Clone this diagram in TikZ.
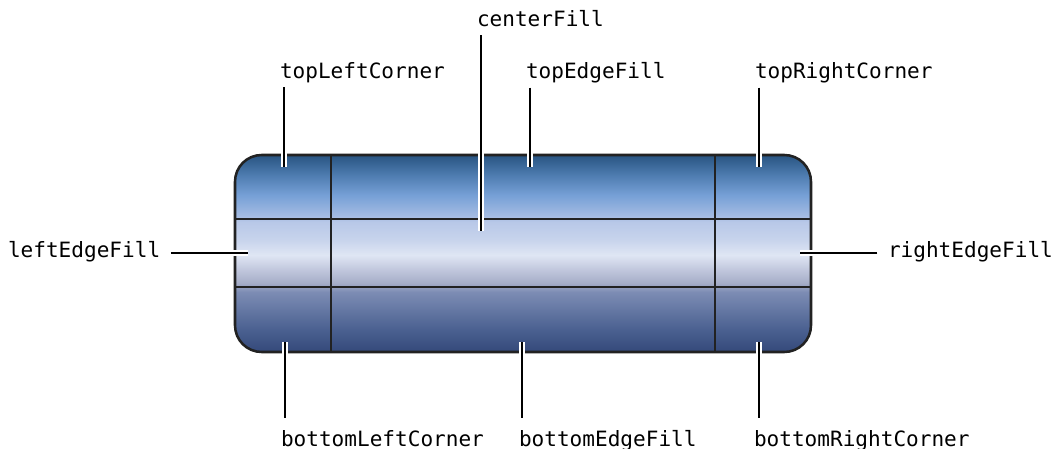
\documentclass[tikz,border=0pt]{standalone}
\usepackage{fontspec}
\setmonofont{DejaVu Sans Mono}
\definecolor{frameInk}{HTML}{222222}
\definecolor{shA}{HTML}{34497A}
\definecolor{shB}{HTML}{4A6090}
\definecolor{shC}{HTML}{7C8CB4}
\definecolor{shD}{HTML}{A6AEC8}
\definecolor{shE}{HTML}{C0C6DC}
\definecolor{shF}{HTML}{DFE6F4}
\definecolor{shG}{HTML}{C8D4EC}
\definecolor{shH}{HTML}{B8C8E8}
\definecolor{shI}{HTML}{A2BAE2}
\definecolor{shJ}{HTML}{76A0D6}
\definecolor{shK}{HTML}{4E7CB0}
\definecolor{shL}{HTML}{2C5886}
\definecolor{shM}{HTML}{2A5280}
\pgfdeclareverticalshading{partsShade}{100bp}{%
  color(0bp)=(shA);
  color(25bp)=(shA);
  color(30.6bp)=(shB);
  color(40.2bp)=(shC);
  color(42.5bp)=(shD);
  color(45.8bp)=(shE);
  color(49.6bp)=(shF);
  color(53.4bp)=(shG);
  color(58bp)=(shH);
  color(59.8bp)=(shI);
  color(64.8bp)=(shJ);
  color(69.9bp)=(shK);
  color(74.5bp)=(shL);
  color(75bp)=(shM);
  color(100bp)=(shM)}
\tikzset{every picture/.style={line width=0.75pt}}
\tikzset{
  partLabel/.style={font=\ttfamily\fontsize{15.8}{19}\selectfont, inner sep=0pt, outer sep=0pt, anchor=base west},
  leader/.style={draw=white, line width=1.6pt, double=black, double distance=1.5pt},
  gridLine/.style={draw=frameInk, line width=1.6pt}
}

\begin{document}
\begin{tikzpicture}[x=0.75pt,y=0.75pt,yscale=-1,xscale=1]
\useasboundingbox (0,0) rectangle (1052,449);

% Stretchable image
\path[shading=partsShade] [rounded corners=20] (235,155) rectangle (811,352);
\draw[gridLine] (331,155) -- (331,352) ;
\draw[gridLine] (715,155) -- (715,352) ;
\draw[gridLine] (235,219) -- (811,219) ;
\draw[gridLine] (235,287) -- (811,287) ;
\draw[draw=frameInk, line width=1.9pt] [rounded corners=20] (235,155) rectangle (811,352);

% Coordinates on the image
\coordinate (pCenter) at (481,231);
\coordinate (pTopLeft) at (284,167);
\coordinate (pTopEdge) at (530,167);
\coordinate (pTopRight) at (759,167);
\coordinate (pLeftEdge) at (248,253);
\coordinate (pRightEdge) at (800,253);
\coordinate (pBottomLeft) at (285,342);
\coordinate (pBottomEdge) at (522,342);
\coordinate (pBottomRight) at (759,342);

% Text Node
\node[partLabel] (centerFill) at (477,27) {centerFill};
% Text Node
\node[partLabel] (topLeftCorner) at (280,79) {topLeftCorner};
% Text Node
\node[partLabel] (topEdgeFill) at (526,79) {topEdgeFill};
% Text Node
\node[partLabel] (topRightCorner) at (755,79) {topRightCorner};
% Text Node
\node[partLabel] (leftEdgeFill) at (8,257) {leftEdgeFill};
% Text Node
\node[partLabel] (rightEdgeFill) at (888,257) {rightEdgeFill};
% Text Node
\node[partLabel] (bottomLeftCorner) at (281,446) {bottomLeftCorner};
% Text Node
\node[partLabel] (bottomEdgeFill) at (519,446) {bottomEdgeFill};
% Text Node
\node[partLabel] (bottomRightCorner) at (754,446) {bottomRightCorner};

% Connection
\draw[leader, shorten <=6] (centerFill.south -| pCenter) -- (pCenter) ;
% Connection
\draw[leader, shorten <=3] (topLeftCorner.south -| pTopLeft) -- (pTopLeft) ;
% Connection
\draw[leader, shorten <=3] (topEdgeFill.south -| pTopEdge) -- (pTopEdge) ;
% Connection
\draw[leader, shorten <=3] (topRightCorner.south -| pTopRight) -- (pTopRight) ;
% Connection
\draw[leader, shorten <=8] (leftEdgeFill.east |- pLeftEdge) -- (pLeftEdge) ;
% Connection
\draw[leader, shorten <=8] (rightEdgeFill.west |- pRightEdge) -- (pRightEdge) ;
% Connection
\draw[leader, shorten <=9] (bottomLeftCorner.north -| pBottomLeft) -- (pBottomLeft) ;
% Connection
\draw[leader, shorten <=9] (bottomEdgeFill.north -| pBottomEdge) -- (pBottomEdge) ;
% Connection
\draw[leader, shorten <=9] (bottomRightCorner.north -| pBottomRight) -- (pBottomRight) ;

\end{tikzpicture}
\end{document}
